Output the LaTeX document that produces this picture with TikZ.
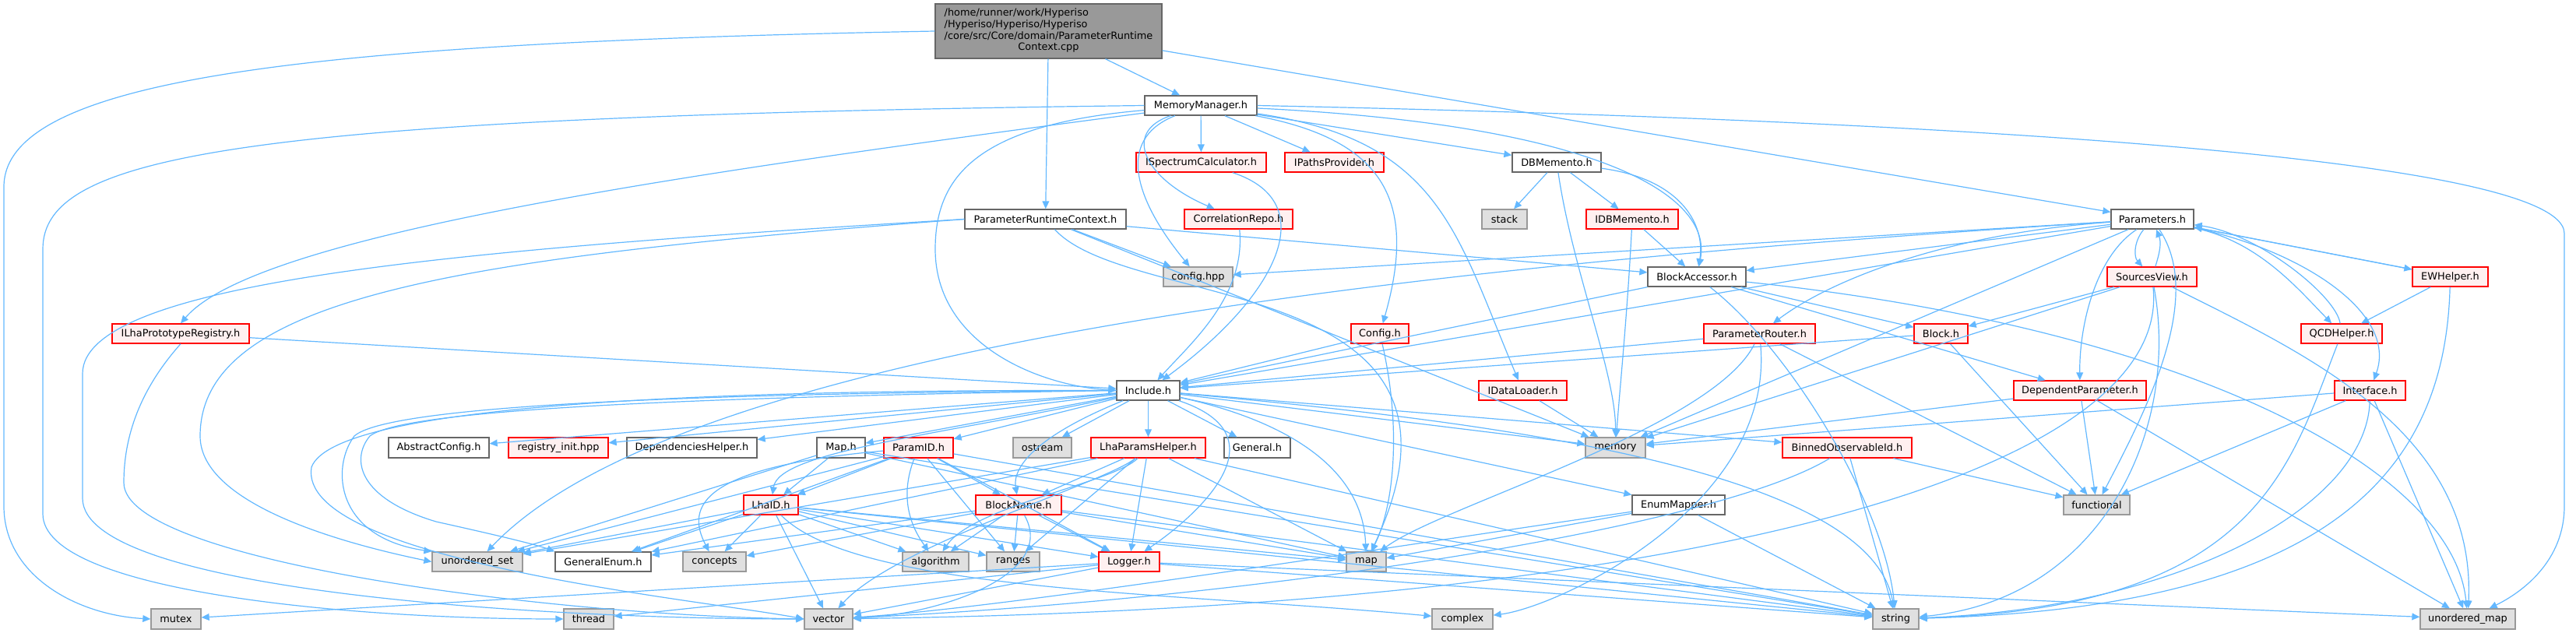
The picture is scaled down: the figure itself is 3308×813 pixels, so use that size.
\documentclass[tikz,border=0pt]{standalone}
\usepackage{fontspec}
\setmainfont{DejaVu Sans}
\usetikzlibrary{arrows.meta}
\definecolor{edgec}{HTML}{63B8FF}
\definecolor{redb}{HTML}{FF0000}
\definecolor{redf}{HTML}{FFF0F0}
\definecolor{grayb}{HTML}{999999}
\definecolor{grayf}{HTML}{E0E0E0}
\definecolor{darkb}{HTML}{666666}
\tikzset{
  base/.style={inner sep=0pt, line width=0.65pt, font=\fontsize{6.45}{7.35}\selectfont, text=black},
  whitebox/.style={base, draw=darkb, fill=white},
  redbox/.style={base, draw=redb, fill=redf},
  graybox/.style={base, draw=grayb, fill=grayf},
  topbox/.style={base, draw=darkb, fill=grayb},
  e/.style={draw=edgec, line width=0.6pt, -{Triangle[length=5pt,width=4.4pt]}},
}
\newcommand\nd[7]{\node[#6, minimum width={((#4)-(#2))*0.5pt}, minimum height={((#5)-(#3))*0.5pt}] (#1) at ({((#2)+(#4))/2},{((#3)+(#5))/2}) {#7};}
\begin{document}
\begin{tikzpicture}[x=0.5pt,y=-0.5pt]
\useasboundingbox (0,0) rectangle (3308,813);
% nodes
\nd{top}{1201}{5}{1492}{75}{topbox}{\begin{tabular}{@{}l@{}}/home/runner/work/Hyperiso\\/Hyperiso/Hyperiso/Hyperiso\\/core/src/Core/domain/ParameterRuntime\\\multicolumn{1}{@{}c@{}}{Context.cpp}\end{tabular}}
\nd{mm}{1470}{123}{1614}{148}{whitebox}{MemoryManager.h}
\nd{isc}{1459}{196}{1626}{221}{redbox}{ISpectrumCalculator.h}
\nd{ipp}{1650}{196}{1777}{221}{redbox}{IPathsProvider.h}
\nd{dbm}{1942}{196}{2056}{221}{whitebox}{DBMemento.h}
\nd{prc}{1239}{269}{1446}{294}{whitebox}{ParameterRuntimeContext.h}
\nd{corr}{1521}{269}{1660}{294}{redbox}{CorrelationRepo.h}
\nd{stack}{1903}{269}{1961}{294}{graybox}{stack}
\nd{idbm}{2037}{269}{2155}{294}{redbox}{IDBMemento.h}
\nd{par}{2711}{269}{2817}{294}{whitebox}{Parameters.h}
\nd{ilpr}{144}{416}{320}{441}{redbox}{ILhaPrototypeRegistry.h}
\nd{cfghpp}{1494}{343}{1583}{368}{graybox}{config.hpp}
\nd{ba}{2116}{343}{2242}{368}{whitebox}{BlockAccessor.h}
\nd{sview}{2706}{343}{2821}{368}{redbox}{SourcesView.h}
\nd{ewh}{3098}{343}{3195}{368}{redbox}{EWHelper.h}
\nd{config}{1735}{416}{1809}{441}{redbox}{Config.h}
\nd{prouter}{2188}{416}{2331}{441}{redbox}{ParameterRouter.h}
\nd{block}{2458}{416}{2527}{441}{redbox}{Block.h}
\nd{qcdh}{2955}{416}{3059}{441}{redbox}{QCDHelper.h}
\nd{inc}{1434}{489}{1515}{514}{whitebox}{Include.h}
\nd{idl}{1899}{489}{2012}{514}{redbox}{IDataLoader.h}
\nd{depparam}{2586}{489}{2756}{514}{redbox}{DependentParameter.h}
\nd{iface}{2998}{489}{3089}{514}{redbox}{Interface.h}
\nd{abscfg}{499}{562}{628}{588}{whitebox}{AbstractConfig.h}
\nd{reginit}{653}{562}{781}{588}{redbox}{registry\_init.hpp}
\nd{dephelp}{805}{562}{972}{588}{whitebox}{DependenciesHelper.h}
\nd{maph}{1049}{562}{1111}{588}{whitebox}{Map.h}
\nd{paramid}{1135}{562}{1224}{588}{redbox}{ParamID.h}
\nd{ostream}{1301}{562}{1376}{588}{graybox}{ostream}
\nd{lhaph}{1401}{562}{1548}{588}{redbox}{LhaParamsHelper.h}
\nd{generalh}{1572}{562}{1657}{588}{whitebox}{General.h}
\nd{memory}{2036}{562}{2113}{588}{graybox}{memory}
\nd{binned}{2289}{562}{2455}{588}{redbox}{BinnedObservableId.h}
\nd{lhaid}{955}{636}{1025}{661}{redbox}{LhaID.h}
\nd{blockname}{1253}{636}{1363}{661}{redbox}{BlockName.h}
\nd{enummap}{2096}{636}{2215}{661}{whitebox}{EnumMapper.h}
\nd{functional}{2650}{636}{2735}{661}{graybox}{functional}
\nd{uset}{555}{709}{671}{734}{graybox}{unordered\_set}
\nd{genenum}{713}{709}{836}{734}{whitebox}{GeneralEnum.h}
\nd{concepts}{877}{709}{958}{734}{graybox}{concepts}
\nd{algorithm}{1159}{709}{1244}{734}{graybox}{algorithm}
\nd{ranges}{1267}{709}{1335}{734}{graybox}{ranges}
\nd{logger}{1411}{709}{1489}{734}{redbox}{Logger.h}
\nd{map}{1729}{709}{1780}{734}{graybox}{map}
\nd{mutex}{194}{782}{258}{808}{graybox}{mutex}
\nd{thread}{724}{782}{788}{808}{graybox}{thread}
\nd{vector}{1033}{782}{1095}{808}{graybox}{vector}
\nd{complex}{1839}{782}{1917}{808}{graybox}{complex}
\nd{string}{2405}{782}{2464}{808}{graybox}{string}
\nd{umap}{3108}{782}{3230}{808}{graybox}{unordered\_map}
% edges from top
\draw[e] (top) -- (mm);
\draw[e] (top) -- (prc);
\draw[e] (top) -- (par);
\draw[e] (top.west) .. controls (400,55) and (5,100) .. (5,240) -- (5,650) .. controls (5,740) and (100,790) .. (mutex.west);
% MemoryManager
\draw[e] (mm.west) .. controls (300,150) and (55,200) .. (55,320) -- (55,660) .. controls (55,760) and (450,795) .. (thread.west);
\draw[e] (mm) .. controls (900,220) and (330,300) .. (ilpr.north);
\draw[e] (mm) .. controls (1250,160) and (1201,230) .. (1201,320) .. controls (1201,440) and (1330,495) .. (inc.west);
\draw[e] (mm) -- (isc);
\draw[e] (mm) .. controls (1440,170) and (1470,230) .. (corr);
\draw[e] (mm) .. controls (1430,180) and (1460,260) .. (cfghpp);
\draw[e] (mm) -- (ipp);
\draw[e] (mm) -- (dbm);
\draw[e] (mm) .. controls (1780,180) and (1820,260) .. (config);
\draw[e] (mm) .. controls (1850,180) and (1870,300) .. (idl);
\draw[e] (mm) .. controls (2050,160) and (2200,250) .. (ba);
\draw[e] (mm.east) .. controls (2300,150) and (3293,190) .. (3293,300) -- (3293,650) .. controls (3293,720) and (3240,760) .. (umap);
% isc, corr
\draw[e] (isc) .. controls (1700,260) and (1640,380) .. (inc);
\draw[e] (corr) .. controls (1600,380) and (1530,440) .. (inc);
% DBMemento
\draw[e] (dbm) -- (stack);
\draw[e] (dbm) -- (idbm);
\draw[e] (dbm) .. controls (2020,350) and (2075,480) .. (memory);
\draw[e] (dbm) .. controls (2160,230) and (2190,290) .. (ba);
\draw[e] (idbm) -- (ba);
\draw[e] (idbm) .. controls (2090,400) and (2080,500) .. (memory);
% ParameterRuntimeContext
\draw[e] (prc) -- (cfghpp);
\draw[e] (prc) -- (ba);
\draw[e] (prc) .. controls (1450,400) and (1930,350) .. (map);
\draw[e] (prc) -- (memory);
\draw[e] (prc.west) .. controls (600,320) and (106,360) .. (106,480) -- (106,640) .. controls (106,760) and (700,795) .. (vector.west);
\draw[e] (prc.west) .. controls (600,330) and (257,380) .. (257,560) .. controls (257,650) and (450,700) .. (uset.west);
% ILhaPrototypeRegistry
\draw[e] (ilpr) -- (inc);
\draw[e] (ilpr.south) .. controls (180,500) and (159,560) .. (159,620) .. controls (159,720) and (700,790) .. (vector.west);
% Parameters
\draw[e] (par) .. controls (2740,310) and (2740,330) .. (sview);
\draw[e] (sview) .. controls (2775,320) and (2775,310) .. (par);
\draw[e] (par) -- (ewh);
\draw[e] (ewh) -- (par);
\draw[e] (par) .. controls (2900,310) and (2950,370) .. (qcdh);
\draw[e] (qcdh) .. controls (3000,380) and (2900,300) .. (par);
\draw[e] (par) .. controls (2950,320) and (3080,400) .. (iface);
\draw[e] (par) .. controls (2690,330) and (2670,420) .. (depparam);
\draw[e] (par) -- (ba);
\draw[e] (par) -- (cfghpp);
\draw[e] (par) -- (inc);
\draw[e] (par) .. controls (2500,300) and (2350,360) .. (prouter);
\draw[e] (par) .. controls (2000,330) and (900,420) .. (uset);
\draw[e] (par) -- (memory);
\draw[e] (par) .. controls (2830,380) and (2760,520) .. (functional);
% helpers
\draw[e] (ewh) -- (qcdh);
\draw[e] (ewh) .. controls (3140,600) and (3000,780) .. (string);
\draw[e] (qcdh) .. controls (2940,600) and (2900,780) .. (string);
\draw[e] (iface) -- (memory);
\draw[e] (iface) -- (functional);
\draw[e] (iface) .. controls (3040,650) and (2800,780) .. (string);
\draw[e] (iface) -- (umap);
\draw[e] (depparam) -- (memory);
\draw[e] (depparam) -- (functional);
\draw[e] (depparam) -- (umap);
\draw[e] (sview) -- (block);
\draw[e] (sview) -- (memory);
\draw[e] (sview) .. controls (2800,550) and (2700,770) .. (string);
\draw[e] (sview) .. controls (2950,450) and (3180,550) .. (umap);
\draw[e] (sview) .. controls (2790,600) and (2200,780) .. (vector);
\draw[e] (block) -- (functional);
\draw[e] (block) -- (inc);
% BlockAccessor
\draw[e] (ba) -- (inc);
\draw[e] (ba) -- (block);
\draw[e] (ba) -- (depparam);
\draw[e] (ba) .. controls (2800,420) and (3150,600) .. (umap);
\draw[e] (ba) .. controls (2300,450) and (2420,650) .. (string);
% ParameterRouter
\draw[e] (prouter) -- (inc);
\draw[e] (prouter) .. controls (2200,550) and (1850,650) .. (map);
\draw[e] (prouter) .. controls (2280,650) and (2000,780) .. (complex);
\draw[e] (prouter) -- (functional);
% Config.h, IDataLoader
\draw[e] (config) -- (inc);
\draw[e] (config) .. controls (1800,550) and (1790,650) .. (map);
\draw[e] (idl) -- (memory);
% Include.h
\draw[e] (inc) -- (abscfg);
\draw[e] (inc) -- (reginit);
\draw[e] (inc) -- (dephelp);
\draw[e] (inc) -- (maph);
\draw[e] (inc) -- (paramid);
\draw[e] (inc) -- (ostream);
\draw[e] (inc) -- (lhaph);
\draw[e] (inc) -- (generalh);
\draw[e] (inc) -- (memory);
\draw[e] (inc) -- (binned);
\draw[e] (inc) -- (enummap);
\draw[e] (inc) .. controls (1200,560) and (1000,580) .. (lhaid);
\draw[e] (inc) .. controls (1330,560) and (1300,600) .. (blockname);
\draw[e] (inc.west) .. controls (900,505) and (500,520) .. (455,560) .. controls (425,600) and (430,690) .. (uset.north west);
\draw[e] (inc.west) .. controls (900,510) and (520,525) .. (475,560) .. controls (450,590) and (460,640) .. (560,670) .. controls (650,690) and (690,700) .. (genenum.north west);
\draw[e] (inc.west) .. controls (900,500) and (430,520) .. (400,600) .. controls (380,720) and (900,770) .. (vector.west);
\draw[e] (inc) .. controls (1650,560) and (1540,660) .. (logger);
\draw[e] (inc) .. controls (1650,540) and (1750,600) .. (map);
\draw[e] (inc) .. controls (1900,540) and (2400,600) .. (string);
% Map.h
\draw[e] (maph) -- (lhaid);
\draw[e] (maph) -- (map);
\draw[e] (maph) -- (string);
\draw[e] (maph) -- (uset);
% ParamID
\draw[e] (paramid) -- (lhaid);
\draw[e] (paramid) -- (blockname);
\draw[e] (paramid) .. controls (1150,650) and (1180,690) .. (algorithm);
\draw[e] (paramid) -- (ranges);
\draw[e] (paramid) -- (logger);
\draw[e] (paramid) .. controls (900,600) and (880,650) .. (concepts);
\draw[e] (paramid) -- (genenum);
\draw[e] (paramid) -- (uset);
\draw[e] (paramid) -- (string);
% LhaID
\draw[e] (lhaid) -- (concepts);
\draw[e] (lhaid) -- (vector);
\draw[e] (lhaid) -- (algorithm);
\draw[e] (lhaid) -- (ranges);
\draw[e] (lhaid) -- (logger);
\draw[e] (lhaid) -- (uset);
\draw[e] (lhaid) -- (genenum);
\draw[e] (lhaid) -- (map);
\draw[e] (lhaid) -- (string);
\draw[e] (lhaid) .. controls (1100,760) and (1500,760) .. (complex);
% BlockName
\draw[e] (blockname) -- (algorithm);
\draw[e] (blockname) -- (ranges);
\draw[e] (blockname) .. controls (1360,740) and (1200,790) .. (vector);
\draw[e] (blockname) -- (logger);
\draw[e] (blockname) -- (concepts);
\draw[e] (blockname) -- (genenum);
\draw[e] (blockname) -- (map);
\draw[e] (blockname) -- (string);
% LhaParamsHelper
\draw[e] (lhaph) -- (blockname);
\draw[e] (lhaph) -- (ranges);
\draw[e] (lhaph) -- (logger);
\draw[e] (lhaph) .. controls (1430,620) and (1250,650) .. (algorithm);
\draw[e] (lhaph) .. controls (1420,620) and (1150,700) .. (vector);
\draw[e] (lhaph) -- (uset);
\draw[e] (lhaph) -- (genenum);
\draw[e] (lhaph) -- (map);
\draw[e] (lhaph) -- (string);
% Logger
\draw[e] (logger) -- (vector);
\draw[e] (logger) -- (mutex);
\draw[e] (logger) -- (thread);
\draw[e] (logger) -- (string);
\draw[e] (logger) -- (umap);
% Binned, EnumMapper
\draw[e] (binned) -- (functional);
\draw[e] (binned) -- (string);
\draw[e] (binned) .. controls (2200,680) and (1600,770) .. (vector);
\draw[e] (enummap) -- (map);
\draw[e] (enummap) -- (string);
\draw[e] (enummap) .. controls (1800,700) and (1300,780) .. (vector);
\end{tikzpicture}
\end{document}
